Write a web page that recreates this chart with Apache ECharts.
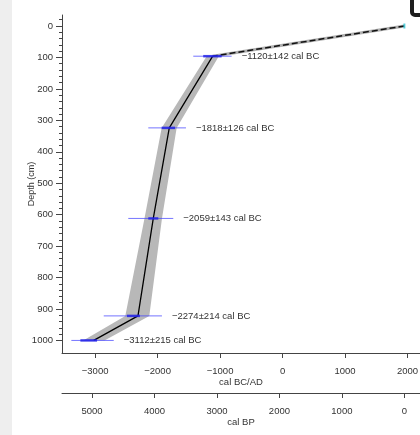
<!DOCTYPE html>
<html>
<head>
<meta charset="utf-8">
<script src="https://cdn.jsdelivr.net/npm/echarts@6/dist/echarts.min.js"></script>
<style>
html,body{margin:0;padding:0;background:#fff;}
#c{width:420px;height:435px;}
</style>
</head>
<body>
<div id="c"></div>
<script>
// ---- data ----
const modelDepths = [0, 96, 324, 612, 922, 1000];          // cm
const modelAges   = [1950, -1118, -1813, -2069, -2314, -3022]; // cal BC/AD
const dateDepths  = [96, 324, 612, 922, 1000];
const dateLabels  = ['−1120±142 cal BC', '−1818±126 cal BC', '−2059±143 cal BC', '−2274±214 cal BC', '−3112±215 cal BC'];
const rangeLow    = [-1429, -2149, -2469, -2862, -3380];
const rangeHigh   = [-815, -1546, -1749, -1930, -2702];
const coreLow     = [-1270, -1935, -2149, -2490, -3236];
const coreHigh    = [-975, -1722, -1989, -2282, -2969];
const bandDepths  = [96, 324, 612, 922, 1000];
const bandLow     = [-1215, -1935, -2210, -2517, -3190];
const bandHigh    = [-1020, -1695, -1930, -2133, -2850];
const xTicks      = [-3000, -2000, -1000, 0, 1000, 2000];
const bpTicks     = [5000, 4000, 3000, 2000, 1000, 0];
const yTicks      = [0, 100, 200, 300, 400, 500, 600, 700, 800, 900, 1000];
const yMinorTicks = [-20, 20, 40, 60, 80, 120, 140, 160, 180, 220, 240, 260, 280, 320, 340, 360, 380, 420, 440, 460, 480, 520, 540, 560, 580, 620, 640, 660, 680, 720, 740, 760, 780, 820, 840, 860, 880, 920, 940, 960, 980];

const FONT = '"Liberation Sans", Arial, sans-serif';
const fmt = v => String(v).replace('-', '−');

const solidLine = modelAges.slice(1).map((a, i) => [a, modelDepths[i + 1]]);
const topLine = [[modelAges[0], modelDepths[0]], [modelAges[1], modelDepths[1]]];
const dateItems = dateDepths.map((d, i) => [d, rangeLow[i], rangeHigh[i], coreLow[i], coreHigh[i], i]);

const chart = echarts.init(document.getElementById('c'), null, {renderer: 'canvas'});
chart.setOption({
  animation: false,
  backgroundColor: '#fff',
  textStyle: {fontFamily: FONT},
  grid: {left: 62, top: 15, right: 0, bottom: 82, containLabel: false, outerBoundsMode: 'none'},
  graphic: [
    {type: 'rect', left: 0, top: 0, shape: {x: 0, y: 0, width: 12, height: 435}, style: {fill: '#eeeeee'}, z: -1},
    {type: 'rect', shape: {x: 412, y: -10, width: 20, height: 25, r: 3}, style: {fill: '#fff', stroke: '#1e1e1e', lineWidth: 4}, z: 100}
  ],
  xAxis: [
    {
      type: 'value', min: -3530, max: 2200, position: 'bottom',
      name: 'cal BC/AD', nameLocation: 'middle', nameGap: 24, nameMoveOverlap: false,
      nameTextStyle: {fontSize: 9.5, color: '#333', fontFamily: FONT},
      splitLine: {show: false},
      axisLine: {show: true, onZero: false, lineStyle: {color: '#444', width: 1}},
      axisTick: {show: true, length: 5, customValues: xTicks, lineStyle: {color: '#444'}},
      axisLabel: {customValues: xTicks, formatter: fmt, margin: 13, fontSize: 9.5, color: '#333', fontFamily: FONT}
    },
    {
      type: 'value', min: -250, max: 5480, inverse: true, position: 'bottom', offset: 40,
      name: 'cal BP', nameLocation: 'middle', nameGap: 24, nameMoveOverlap: false,
      nameTextStyle: {fontSize: 9.5, color: '#333', fontFamily: FONT},
      splitLine: {show: false},
      axisLine: {show: true, onZero: false, lineStyle: {color: '#444', width: 1}},
      axisTick: {show: true, length: 5, customValues: bpTicks, lineStyle: {color: '#444'}},
      axisLabel: {customValues: bpTicks, formatter: fmt, margin: 13, fontSize: 9.5, color: '#333', fontFamily: FONT}
    }
  ],
  yAxis: [
    {
      type: 'value', min: -35, max: 1040, inverse: true, position: 'left',
      name: 'Depth (cm)', nameLocation: 'middle', nameGap: 26, nameMoveOverlap: false,
      nameTextStyle: {fontSize: 9, color: '#333', fontFamily: FONT},
      splitLine: {show: false},
      axisLine: {show: true, onZero: false, lineStyle: {color: '#444', width: 1}},
      axisTick: {show: true, length: 6, customValues: yTicks, lineStyle: {color: '#444'}},
      axisLabel: {customValues: yTicks, formatter: v => String(v), margin: 9, fontSize: 9.5, color: '#333', fontFamily: FONT}
    },
    {
      type: 'value', min: -35, max: 1040, inverse: true, position: 'left',
      splitLine: {show: false},
      axisLine: {show: false, onZero: false},
      axisTick: {show: true, length: 3, customValues: yMinorTicks, lineStyle: {color: '#444'}},
      axisLabel: {show: false}
    }
  ],
  series: [
    {
      type: 'custom', xAxisIndex: 0, yAxisIndex: 0, data: [[0]], silent: true, z: 1,
      renderItem: function (params, api) {
        const pts = [];
        for (let i = 0; i < bandDepths.length; i++) pts.push(api.coord([bandHigh[i], bandDepths[i]]));
        for (let i = bandDepths.length - 1; i >= 0; i--) pts.push(api.coord([bandLow[i], bandDepths[i]]));
        return {type: 'polygon', shape: {points: pts}, style: {fill: '#b8b8b8'}};
      }
    },
    {
      type: 'line', xAxisIndex: 0, yAxisIndex: 0, data: topLine, symbol: 'none', z: 2,
      lineStyle: {color: '#b0b0b0', width: 3}
    },
    {
      type: 'line', xAxisIndex: 0, yAxisIndex: 0, data: topLine, symbol: 'none', z: 3,
      lineStyle: {color: '#111', width: 1.5, type: [6, 3]}
    },
    {
      type: 'line', xAxisIndex: 0, yAxisIndex: 0, data: solidLine, symbol: 'none', z: 3,
      lineStyle: {color: '#000', width: 1.3}
    },
    {
      type: 'custom', xAxisIndex: 0, yAxisIndex: 0, data: dateItems, silent: true, z: 4,
      renderItem: function (params, api) {
        const d = api.value(0);
        const a = api.coord([api.value(1), d]);
        const b = api.coord([api.value(2), d]);
        const c1 = api.coord([api.value(3), d]);
        const c2 = api.coord([api.value(4), d]);
        return {
          type: 'group',
          children: [
            {type: 'line', shape: {x1: a[0], y1: a[1], x2: b[0], y2: b[1]}, style: {stroke: 'rgba(70,70,255,0.75)', lineWidth: 1}},
            {type: 'line', shape: {x1: c1[0], y1: c1[1], x2: c2[0], y2: c2[1]}, style: {stroke: 'rgba(30,30,230,0.8)', lineWidth: 2.5}},
            {type: 'text', x: b[0] + 10, y: b[1], style: {text: dateLabels[api.value(5)], fill: '#333', font: '9.5px ' + FONT, textAlign: 'left', textVerticalAlign: 'middle'}}
          ]
        };
      }
    },
    {
      type: 'scatter', xAxisIndex: 0, yAxisIndex: 0, data: [[modelAges[0], modelDepths[0]]], z: 5,
      symbol: 'rect', symbolSize: [2, 5], itemStyle: {color: '#33c6d6'}, silent: true
    }
  ]
});
</script>
</body>
</html>
